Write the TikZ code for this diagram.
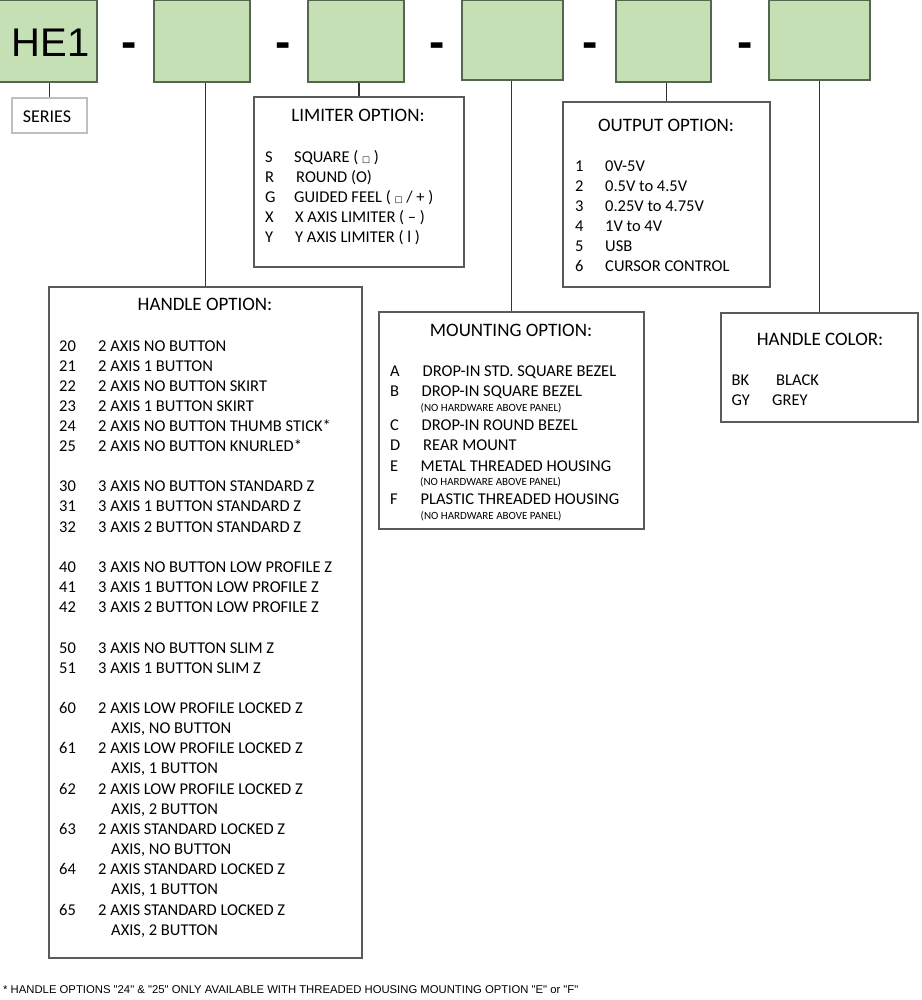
\documentclass[tikz,border=0pt]{standalone}
\usepackage{fontspec}
\setmainfont{Carlito}
\newfontfamily\arialf{Liberation Sans}
\newfontfamily\djv{DejaVu Sans}
\definecolor{gfill}{HTML}{C5E0B4}
\definecolor{gline}{HTML}{56664E}
\definecolor{bline}{HTML}{5A5A5A}
\definecolor{sline}{HTML}{BFBFBF}
\newcommand{\sq}{{\djv\fontsize{8.5}{8.5}\selectfont □}}
\begin{document}
\begin{tikzpicture}[x=1pt,y=-1pt,
  gbox/.style={draw=gline, fill=gfill, line width=1.3pt, inner sep=0pt},
  obox/.style={draw=bline, line width=1.4pt, inner sep=0pt},
  sbox/.style={draw=sline, line width=1.2pt, inner sep=0pt},
  conn/.style={draw=black!80, line width=1.1pt},
  dashtxt/.style={inner sep=0pt, anchor=base, font=\arialf\bfseries\fontsize{46}{46}\selectfont},
  ttl/.style={inner sep=0pt, anchor=base, yshift=-6.1pt, font=\fontsize{19}{19}\selectfont},
  row/.style={inner sep=0pt, anchor=base west, yshift=-5.3pt, font=\fontsize{16.5}{16.5}\selectfont},
  sml/.style={inner sep=0pt, anchor=base west, yshift=-3.5pt, font=\fontsize{11}{11}\selectfont}]
\useasboundingbox (0,0) rectangle (921,1000);

% green code boxes
\node[gbox, minimum width=98pt, minimum height=82pt] (g1) at (48,41) {};
\node[gbox, minimum width=96pt, minimum height=82pt] (g2) at (202,41) {};
\node[gbox, minimum width=96pt, minimum height=82pt] (g3) at (356,41) {};
\node[gbox, minimum width=101pt, minimum height=80pt] (g4) at (512.5,40) {};
\node[gbox, minimum width=95pt, minimum height=82pt] (g5) at (663.5,41) {};
\node[gbox, minimum width=101pt, minimum height=80pt] (g6) at (819.5,40) {};
\node[inner sep=0pt, font=\arialf\fontsize{40}{40}\selectfont] (he1) at (50.5,42.5) {HE1};

% separators
\node[dashtxt] (d1) at (129.5,58) {-};
\node[dashtxt] (d2) at (283.5,58) {-};
\node[dashtxt] (d3) at (437,58) {-};
\node[dashtxt] (d4) at (590.5,58) {-};
\node[dashtxt] (d5) at (745,58) {-};

% option boxes
\node[sbox, minimum width=75pt, minimum height=35pt] (series) at (49.5,115.5) {};
\node[obox, minimum width=210pt, minimum height=170pt] (limiter) at (359,182) {};
\node[obox, minimum width=207pt, minimum height=185pt] (output) at (666.5,194.5) {};
\node[obox, minimum width=313pt, minimum height=671pt] (handle) at (205.5,622.5) {};
\node[obox, minimum width=265pt, minimum height=217pt] (mounting) at (511.5,420.5) {};
\node[obox, minimum width=197pt, minimum height=109pt] (color) at (819.5,367.5) {};

% connectors
\draw[conn] (series.north) -- (series.north |- g1.south);
\draw[conn] (handle.north) -- (handle.north |- g2.south);
\draw[conn] (limiter.north) -- (limiter.north |- g3.south);
\draw[conn] (mounting.north) -- (mounting.north |- g4.south);
\draw[conn] (output.north) -- (output.north |- g5.south);
\draw[conn] (color.north) -- (color.north |- g6.south);

% series
\node[inner sep=0pt, anchor=base, yshift=-5.8pt, font=\fontsize{18}{18}\selectfont] (seriestxt) at (47,117) {SERIES};

% limiter
\node[ttl] (limtitle) at (358,115) {LIMITER OPTION:};
\node[row] (lS) at (265,157) {S};  \node[row] (lSd) at (294,157) {SQUARE ( \sq\ )};
\node[row] (lR) at (265,177) {R};  \node[row] (lRd) at (296,177) {ROUND (O)};
\node[row] (lG) at (265,197) {G};  \node[row] (lGd) at (294,197) {GUIDED FEEL ( \sq\ / + )};
\node[row] (lX) at (265,217) {X};  \node[row] (lXd) at (295,217) {X AXIS LIMITER ( – )};
\node[row] (lY) at (265,237) {Y};  \node[row] (lYd) at (295,237) {Y AXIS LIMITER ( l )};

% output
\node[ttl] (outtitle) at (666,125) {OUTPUT OPTION:};
\foreach \n/\y/\t in {1/166/{0V-5V},2/186/{0.5V to 4.5V},3/206/{0.25V to 4.75V},4/226/{1V to 4V},5/246/{USB},6/266/{CURSOR CONTROL}}{
  \node[row] (on\n) at (575,\y) {\n};
  \node[row] (od\n) at (605,\y) {\t};
}

% handle
\node[ttl] (handtitle) at (205,304) {HANDLE OPTION:};
\foreach \n/\y/\t in {20/346/{2 AXIS NO BUTTON},21/366/{2 AXIS 1 BUTTON},22/386/{2 AXIS NO BUTTON SKIRT},23/406/{2 AXIS 1 BUTTON SKIRT},24/426/{2 AXIS NO BUTTON THUMB STICK*},25/446/{2 AXIS NO BUTTON KNURLED*},30/486/{3 AXIS NO BUTTON STANDARD Z},31/506/{3 AXIS 1 BUTTON STANDARD Z},32/527/{3 AXIS 2 BUTTON STANDARD Z},40/567/{3 AXIS NO BUTTON LOW PROFILE Z},41/587/{3 AXIS 1 BUTTON LOW PROFILE Z},42/607/{3 AXIS 2 BUTTON LOW PROFILE Z},50/648/{3 AXIS NO BUTTON SLIM Z},51/668/{3 AXIS 1 BUTTON SLIM Z},60/708/{2 AXIS LOW PROFILE LOCKED Z},61/748/{2 AXIS LOW PROFILE LOCKED Z},62/789/{2 AXIS LOW PROFILE LOCKED Z},63/829/{2 AXIS STANDARD LOCKED Z},64/869/{2 AXIS STANDARD LOCKED Z},65/910/{2 AXIS STANDARD LOCKED Z}}{
  \node[row] (hn\n) at (59,\y) {\n};
  \node[row] (hd\n) at (98,\y) {\t};
}
\foreach \n/\y/\t in {60/728/{AXIS, NO BUTTON},61/768/{AXIS, 1 BUTTON},62/809/{AXIS, 2 BUTTON},63/849/{AXIS, NO BUTTON},64/889/{AXIS, 1 BUTTON},65/930/{AXIS, 2 BUTTON}}{
  \node[row] (hc\n) at (111,\y) {\t};
}

% mounting
\node[ttl] (mnttitle) at (511,330) {MOUNTING OPTION:};
\node[row] (mA) at (390,371) {A}; \node[row] (mAd) at (422.5,371) {DROP-IN STD. SQUARE BEZEL};
\node[row] (mB) at (390,391) {B}; \node[row] (mBd) at (421.5,391) {DROP-IN SQUARE BEZEL};
\node[sml] (mBs) at (420.5,408) {(NO HARDWARE ABOVE PANEL)};
\node[row] (mC) at (390,425) {C}; \node[row] (mCd) at (421.5,425) {DROP-IN ROUND BEZEL};
\node[row] (mD) at (390,445) {D}; \node[row] (mDd) at (423,445) {REAR MOUNT};
\node[row] (mE) at (390,466) {E}; \node[row] (mEd) at (420.5,466) {METAL THREADED HOUSING};
\node[sml] (mEs) at (420,482) {(NO HARDWARE ABOVE PANEL)};
\node[row] (mF) at (390,499) {F}; \node[row] (mFd) at (420.5,499) {PLASTIC THREADED HOUSING};
\node[sml] (mFs) at (420.5,516) {(NO HARDWARE ABOVE PANEL)};

% color
\node[ttl] (coltitle) at (820,339) {HANDLE COLOR:};
\node[row] (cBK) at (731.5,380) {BK}; \node[row] (cBKd) at (776,380) {BLACK};
\node[row] (cGY) at (731.5,400) {GY}; \node[row] (cGYd) at (772,400) {GREY};

% footnote
\node[inner sep=0pt, anchor=base west, font=\arialf\fontsize{11.3}{11.3}\selectfont] (foot) at (3,993) {* HANDLE OPTIONS "24" \& "25" ONLY AVAILABLE WITH THREADED HOUSING MOUNTING OPTION "E" or "F"};
\end{tikzpicture}
\end{document}
